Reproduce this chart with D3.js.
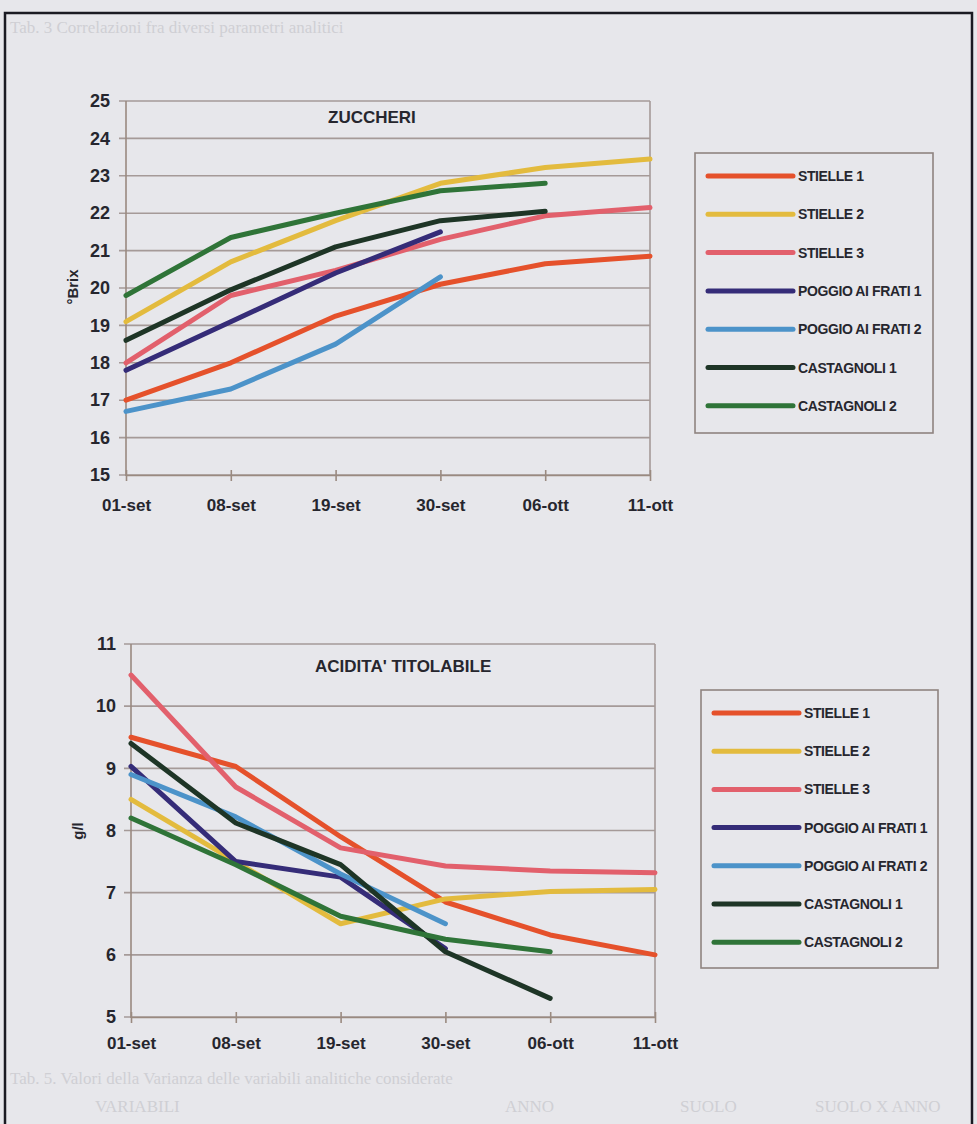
<!DOCTYPE html>
<html>
<head>
<meta charset="utf-8">
<script src="https://cdn.jsdelivr.net/npm/d3@7"></script>
<style>
  html, body { margin: 0; padding: 0; background: #e7e7eb; }
  svg { display: block; }
</style>
</head>
<body>
<div id="chart"></div>
<script>
// sampling dates
const dates = ["01-set", "08-set", "19-set", "30-set", "06-ott", "11-ott"]
const seriesNames = ["STIELLE 1", "STIELLE 2", "STIELLE 3", "POGGIO AI FRATI 1", "POGGIO AI FRATI 2", "CASTAGNOLI 1", "CASTAGNOLI 2"]
const seriesColors = ["#e5512b", "#e3bb3e", "#e2606c", "#352c78", "#4c93c9", "#1e3526", "#2f7438"]

// zuccheri (°Brix), null = no sample
const brixStielle1 = [17.0, 18.0, 19.25, 20.1, 20.65, 20.85]
const brixStielle2 = [19.1, 20.7, 21.8, 22.8, 23.22, 23.45]
const brixStielle3 = [18.0, 19.8, 20.47, 21.3, 21.93, 22.15]
const brixPoggio1 = [17.8, 19.1, 20.4, 21.5, null, null]
const brixPoggio2 = [16.7, 17.3, 18.5, 20.3, null, null]
const brixCastagnoli1 = [18.6, 19.95, 21.1, 21.8, 22.05, null]
const brixCastagnoli2 = [19.8, 21.35, 22.0, 22.6, 22.8, null]

// acidita' titolabile (g/l)
const acidStielle1 = [9.5, 9.03, 7.9, 6.85, 6.32, 6.0]
const acidStielle2 = [8.5, 7.5, 6.5, 6.9, 7.02, 7.05]
const acidStielle3 = [10.5, 8.7, 7.72, 7.43, 7.35, 7.32]
const acidPoggio1 = [9.03, 7.5, 7.25, 6.1, null, null]
const acidPoggio2 = [8.9, 8.22, 7.3, 6.5, null, null]
const acidCastagnoli1 = [9.4, 8.12, 7.45, 6.05, 5.3, null]
const acidCastagnoli2 = [8.2, 7.45, 6.62, 6.25, 6.05, null]

const brixTicks = [15, 16, 17, 18, 19, 20, 21, 22, 23, 24, 25]
const acidTicks = [5, 6, 7, 8, 9, 10, 11]

const W = 977, H = 1124
const svg = d3.select("#chart").append("svg")
  .attr("width", W).attr("height", H)

svg.append("rect").attr("width", W).attr("height", H).attr("fill", "#e7e7eb")

// faint show-through of the page behind
const ghost = svg.append("g").attr("fill", "#cfcfd4").attr("font-family", "'Liberation Serif', serif").attr("font-size", 17)
ghost.append("text").attr("x", 10).attr("y", 33).text("Tab. 3 Correlazioni fra diversi parametri analitici")
ghost.append("text").attr("x", 10).attr("y", 1084).text("Tab. 5. Valori della Varianza delle variabili analitiche considerate")
ghost.append("text").attr("x", 95).attr("y", 1112).text("VARIABILI")
ghost.append("text").attr("x", 505).attr("y", 1112).text("ANNO")
ghost.append("text").attr("x", 680).attr("y", 1112).text("SUOLO")
ghost.append("text").attr("x", 815).attr("y", 1112).text("SUOLO X ANNO")

// page frame
svg.append("path")
  .attr("d", `M5,${H + 5} V13 H972 V${H + 5}`)
  .attr("fill", "none").attr("stroke", "#1a1a22").attr("stroke-width", 2.5)

function draw_panel(cfg) {
  const g = svg.append("g")
  const x = d3.scalePoint().domain(dates).range([cfg.left, cfg.right])
  const y = d3.scaleLinear().domain(cfg.domain).range([cfg.bottom, cfg.top])

  // gridlines
  g.append("g").selectAll("line")
    .data(cfg.ticks)
    .join("line")
      .attr("x1", cfg.left - 7).attr("x2", cfg.right)
      .attr("y1", d => y(d)).attr("y2", d => y(d))
      .attr("stroke", "#a59a98").attr("stroke-width", 1.6)

  // plot frame (right side) and axes
  g.append("line").attr("x1", cfg.right).attr("x2", cfg.right).attr("y1", cfg.top).attr("y2", cfg.bottom)
    .attr("stroke", "#a59a98").attr("stroke-width", 1.6)
  g.append("line").attr("x1", cfg.left).attr("x2", cfg.left).attr("y1", cfg.top).attr("y2", cfg.bottom + 1)
    .attr("stroke", "#9a8a80").attr("stroke-width", 1.6)

  const xAxis = g.append("g")
    .attr("transform", `translate(0,${cfg.bottom})`)
    .call(d3.axisBottom(x).tickSize(6).tickSizeOuter(0).tickPadding(cfg.xPad))
  xAxis.select(".domain").attr("stroke", "#9a8a80").attr("stroke-width", 1.6)
  xAxis.selectAll(".tick line").attr("stroke", "#9a8a80").attr("stroke-width", 1.6).attr("y1", -5)
  xAxis.selectAll(".tick text")
    .attr("fill", "#26262e").attr("font-family", "'Liberation Sans', Arial, sans-serif")
    .attr("font-weight", "bold").attr("font-size", 17)

  const yAxis = g.append("g")
    .attr("transform", `translate(${cfg.left},0)`)
    .call(d3.axisLeft(y).tickValues(cfg.ticks).tickFormat(d3.format("d")).tickSize(0).tickPadding(cfg.left - cfg.labelRight))
  yAxis.select(".domain").remove()
  yAxis.selectAll(".tick text")
    .attr("fill", "#26262e").attr("font-family", "'Liberation Sans', Arial, sans-serif")
    .attr("font-weight", "bold").attr("font-size", 18)

  // axis title
  g.append("text")
    .attr("transform", `translate(${cfg.yTitleX},${cfg.yTitleY}) rotate(-90)`)
    .attr("text-anchor", "middle")
    .attr("fill", "#26262e").attr("font-family", "'Liberation Sans', Arial, sans-serif")
    .attr("font-weight", "bold").attr("font-size", 15)
    .text(cfg.yTitle)

  // chart title
  g.append("text")
    .attr("x", cfg.titleX).attr("y", cfg.titleY)
    .attr("fill", "#26262e").attr("font-family", "'Liberation Sans', Arial, sans-serif")
    .attr("font-weight", "bold").attr("font-size", 17)
    .text(cfg.title)

  // series lines
  const line = d3.line()
    .defined(d => d.v !== null)
    .x(d => x(d.date))
    .y(d => y(d.v))
  g.append("g").selectAll("path")
    .data(cfg.values)
    .join("path")
      .attr("d", vals => line(vals.map((v, i) => ({date: dates[i], v: v}))))
      .attr("fill", "none")
      .attr("stroke", (d, i) => seriesColors[i])
      .attr("stroke-width", 5)
      .attr("stroke-linejoin", "round")
      .attr("stroke-linecap", "round")

  // legend
  const lg = g.append("g")
  lg.append("rect")
    .attr("x", cfg.legend.x).attr("y", cfg.legend.y)
    .attr("width", cfg.legend.w).attr("height", cfg.legend.h)
    .attr("fill", "none").attr("stroke", "#8f8480").attr("stroke-width", 1.6)
  const rows = lg.selectAll("g.row")
    .data(seriesNames)
    .join("g").attr("class", "row")
    .attr("transform", (d, i) => `translate(${cfg.legend.x + 13},${cfg.legend.firstRow + i * cfg.legend.step})`)
  rows.append("line")
    .attr("x1", 0).attr("x2", 85)
    .attr("stroke", (d, i) => seriesColors[i]).attr("stroke-width", 5).attr("stroke-linecap", "round")
  rows.append("text")
    .attr("x", 90).attr("dy", "0.36em")
    .attr("fill", "#26262e")
    .attr("font-family", "'Liberation Sans Narrow', 'Arial Narrow', 'Liberation Sans', sans-serif")
    .attr("font-weight", "bold").attr("font-size", 14)
    .attr("letter-spacing", -0.4)
    .text(d => d)
}

draw_panel({
  left: 126, right: 650, top: 101, bottom: 475,
  domain: [15, 25], ticks: brixTicks, labelRight: 110, xPad: 18,
  yTitle: "°Brix", yTitleX: 78, yTitleY: 287,
  title: "ZUCCHERI", titleX: 328, titleY: 123,
  values: [brixStielle1, brixStielle2, brixStielle3, brixPoggio1, brixPoggio2, brixCastagnoli1, brixCastagnoli2],
  legend: {x: 695, y: 153, w: 238, h: 280, firstRow: 176, step: 38.3}
})

draw_panel({
  left: 131, right: 655, top: 644, bottom: 1017,
  domain: [5, 11], ticks: acidTicks, labelRight: 116, xPad: 14,
  yTitle: "g/l", yTitleX: 83, yTitleY: 831,
  title: "ACIDITA' TITOLABILE", titleX: 315, titleY: 672,
  values: [acidStielle1, acidStielle2, acidStielle3, acidPoggio1, acidPoggio2, acidCastagnoli1, acidCastagnoli2],
  legend: {x: 701, y: 690, w: 237, h: 278, firstRow: 713, step: 38.2}
})
</script>
</body>
</html>
